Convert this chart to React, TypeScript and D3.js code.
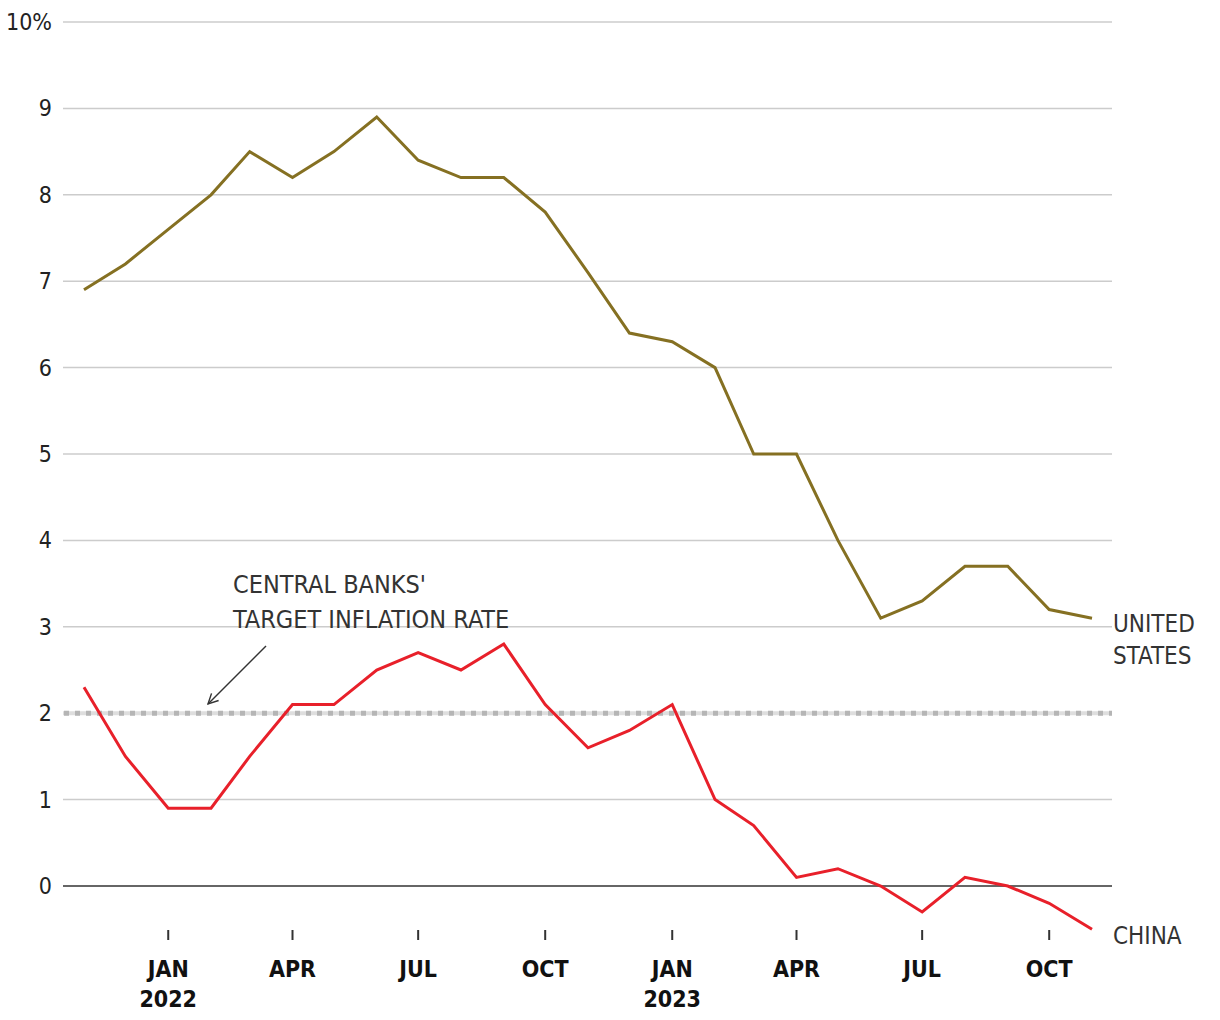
import React from "react";
import * as d3 from "d3";

const months: string[] = [
  "2021-11","2021-12","2022-01","2022-02","2022-03","2022-04","2022-05","2022-06","2022-07","2022-08","2022-09","2022-10","2022-11","2022-12",
  "2023-01","2023-02","2023-03","2023-04","2023-05","2023-06","2023-07","2023-08","2023-09","2023-10","2023-11",
];
const usValues: number[] = [6.9,7.2,7.6,8.0,8.5,8.2,8.5,8.9,8.4,8.2,8.2,7.8,7.1,6.4,6.3,6.0,5.0,5.0,4.0,3.1,3.3,3.7,3.7,3.2,3.1];
const chinaValues: number[] = [2.3,1.5,0.9,0.9,1.5,2.1,2.1,2.5,2.7,2.5,2.8,2.1,1.6,1.8,2.1,1.0,0.7,0.1,0.2,0.0,-0.3,0.1,0.0,-0.2,-0.5];
const yTicks: number[] = [0,1,2,3,4,5,6,7,8,9,10];
const xTicks: { date: string; label: string; year?: string }[] = [
  { date: "2022-01", label: "JAN", year: "2022" },
  { date: "2022-04", label: "APR" },
  { date: "2022-07", label: "JUL" },
  { date: "2022-10", label: "OCT" },
  { date: "2023-01", label: "JAN", year: "2023" },
  { date: "2023-04", label: "APR" },
  { date: "2023-07", label: "JUL" },
  { date: "2023-10", label: "OCT" },
];
const targetRate = 2;

const FONT = "'Liberation Sans Narrow', 'DejaVu Sans Condensed', 'Roboto', sans-serif";

export default function App() {
  const parse = d3.timeParse("%Y-%m");
  const dates = months.map((m) => parse(m) as Date);
  const x = d3.scaleTime().domain([dates[0], dates[dates.length - 1]]).range([84, 1092]);
  const y = d3.scaleLinear().domain([0, 10]).range([886, 22]);
  const line = d3.line<number>().x((_, i) => x(dates[i])).y((v) => y(v));

  const gridX1 = 63;
  const gridX2 = 1112;

  return (
    <svg width={1220} height={1020} style={{ position: "absolute", left: 0, top: 0, background: "#fff" }} fontFamily={FONT}>
      <defs>
        <marker id="arrow" viewBox="0 0 12 12" refX="11" refY="6" markerWidth="12" markerHeight="12" markerUnits="userSpaceOnUse" orient="auto">
          <path d="M1,1 L11,6 L1,11" fill="none" stroke="#333" strokeWidth={1.4} />
        </marker>
      </defs>
      {yTicks.map((t) => (
        <g key={t}>
          {t !== 0 && (
            <line x1={gridX1} x2={gridX2} y1={y(t)} y2={y(t)} stroke="#cccccc" strokeWidth={1.5} />
          )}
          <text x={52} y={y(t) + 8} textAnchor="end" fontSize={23} fill="#222">
            {t === 10 ? "10%" : t}
          </text>
        </g>
      ))}
      <line x1={gridX1} x2={gridX2} y1={y(targetRate)} y2={y(targetRate)} stroke="#dedede" strokeWidth={4} />
      <line x1={gridX1 + 1} x2={gridX2} y1={y(targetRate)} y2={y(targetRate)} stroke="#b5b5b5" strokeWidth={5} strokeDasharray="5,6" />
      <line x1={gridX1} x2={gridX2} y1={y(0)} y2={y(0)} stroke="#333" strokeWidth={1.5} />
      {xTicks.map((t) => {
        const xx = x(parse(t.date) as Date);
        return (
          <g key={t.date}>
            <line x1={xx} x2={xx} y1={930} y2={940} stroke="#333" strokeWidth={2} />
            <text x={xx} y={977} textAnchor="middle" fontSize={23} fontWeight="bold" fill="#111">{t.label}</text>
            {t.year && (
              <text x={xx} y={1007} textAnchor="middle" fontSize={23} fontWeight="bold" fill="#111">{t.year}</text>
            )}
          </g>
        );
      })}
      <path d={line(usValues) || ""} fill="none" stroke="#857022" strokeWidth={3} strokeLinejoin="miter" />
      <path d={line(chinaValues) || ""} fill="none" stroke="#e8202a" strokeWidth={3} strokeLinejoin="miter" />
      <text x={233} y={593} fontSize={25} fill="#333">CENTRAL BANKS'</text>
      <text x={233} y={628} fontSize={25} fill="#333">TARGET INFLATION RATE</text>
      <line x1={266} y1={646} x2={208} y2={704} stroke="#333" strokeWidth={1.4} markerEnd="url(#arrow)" />
      <text x={1113} y={632} fontSize={24} fill="#333">UNITED</text>
      <text x={1113} y={664} fontSize={24} fill="#333">STATES</text>
      <text x={1113} y={944} fontSize={24} fill="#333">CHINA</text>
    </svg>
  );
}
